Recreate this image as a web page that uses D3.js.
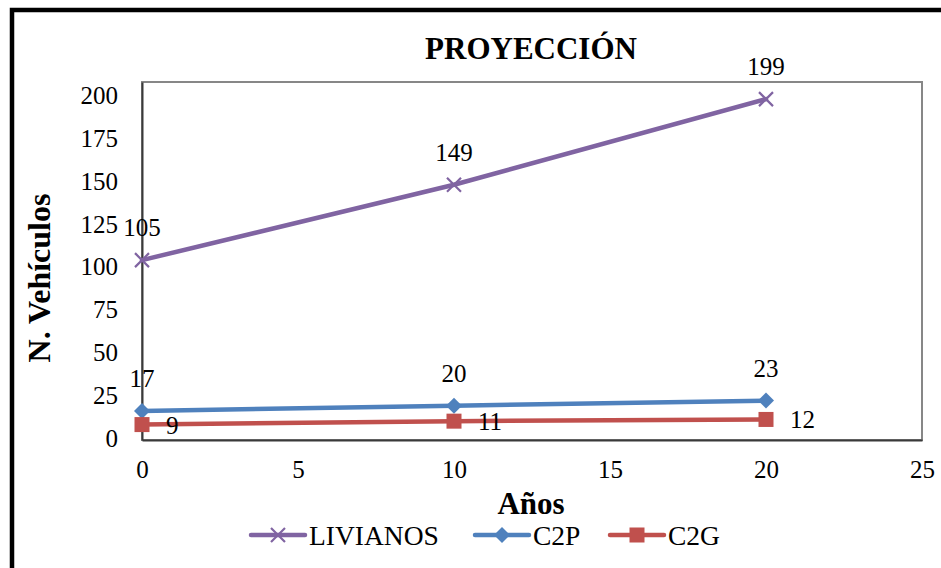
<!DOCTYPE html>
<html>
<head>
<meta charset="utf-8">
<script src="https://cdn.jsdelivr.net/npm/d3@7"></script>
<style>
  html, body { margin: 0; padding: 0; background: #fff; }
  svg { display: block; }
  text { font-family: "Liberation Serif", "Times New Roman", serif; fill: #000; }
</style>
</head>
<body>
<script>
// Projection of vehicle counts by year
const years = [0, 10, 20];
const livianos = [105, 149, 199];
const c2p = [17, 20, 23];
const c2g = [9, 11, 12];
const xTicks = [0, 5, 10, 15, 20, 25];
const yTicks = [0, 25, 50, 75, 100, 125, 150, 175, 200];

const W = 941, H = 568;
const plot = { left: 142, top: 82, right: 922, bottom: 440 };

const svg = d3.select("body").append("svg").attr("width", W).attr("height", H);

// outer chart frame
svg.append("rect")
  .attr("x", 12).attr("y", 10).attr("width", 1000).attr("height", 700)
  .attr("fill", "none").attr("stroke", "#000").attr("stroke-width", 4.5);

const x = d3.scaleLinear().domain([0, 25]).range([plot.left, plot.right]);
const y = d3.scaleLinear().domain([0, 209]).range([plot.bottom, plot.top]);

// plot area border
svg.append("rect")
  .attr("x", plot.left).attr("y", plot.top)
  .attr("width", plot.right - plot.left).attr("height", plot.bottom - plot.top)
  .attr("fill", "none").attr("stroke", "#878787").attr("stroke-width", 2);

// axes
const xAxis = svg.append("g").attr("transform", `translate(0,${plot.bottom})`)
  .call(d3.axisBottom(x).tickValues(xTicks).tickSize(0).tickPadding(20));
const yAxis = svg.append("g").attr("transform", `translate(${plot.left},0)`)
  .call(d3.axisLeft(y).tickValues(yTicks).tickSize(0).tickPadding(24));
[xAxis, yAxis].forEach(g => {
  g.select(".domain").attr("stroke", "#3a3a3a").attr("stroke-width", 2);
  g.selectAll("text").attr("font-family", "Liberation Serif, serif")
    .attr("font-size", 25).attr("fill", "#000");
});
yAxis.selectAll("text").attr("dy", "0.25em");

// titles
svg.append("text").attr("x", 531).attr("y", 59).attr("text-anchor", "middle")
  .attr("font-size", 31).attr("font-weight", "bold").text("PROYECCIÓN");
svg.append("text").attr("x", 531).attr("y", 514).attr("text-anchor", "middle")
  .attr("font-size", 31).attr("font-weight", "bold").text("Años");
svg.append("text")
  .attr("transform", "translate(50,278) rotate(-90)")
  .attr("text-anchor", "middle")
  .attr("font-size", 32).attr("font-weight", "bold").text("N. Vehículos");

const series = [
  { name: "LIVIANOS", values: livianos, color: "#8064A2", marker: "x", labelPos: "above" },
  { name: "C2P", values: c2p, color: "#4F81BD", marker: "diamond", labelPos: "above" },
  { name: "C2G", values: c2g, color: "#C0504D", marker: "square", labelPos: "right" }
];

function drawMarker(g, type, cx, cy, color) {
  if (type === "x") {
    const s = 7;
    g.append("path").attr("d", `M${cx - s},${cy - s}L${cx + s},${cy + s}M${cx - s},${cy + s}L${cx + s},${cy - s}`)
      .attr("stroke", color).attr("stroke-width", 2.2).attr("fill", "none");
  } else if (type === "diamond") {
    const s = 8;
    g.append("path").attr("d", `M${cx},${cy - s}L${cx + s},${cy}L${cx},${cy + s}L${cx - s},${cy}Z`)
      .attr("fill", color);
  } else {
    const s = 7.5;
    g.append("rect").attr("x", cx - s).attr("y", cy - s).attr("width", 2 * s).attr("height", 2 * s)
      .attr("fill", color);
  }
}

const line = d3.line().x(d => x(d[0])).y(d => y(d[1]));

series.forEach(s => {
  const pts = years.map((yr, i) => [yr, s.values[i]]);
  const g = svg.append("g");
  g.append("path").datum(pts).attr("d", line)
    .attr("fill", "none").attr("stroke", s.color).attr("stroke-width", 4.5).attr("stroke-linecap", "round");
  pts.forEach(p => drawMarker(g, s.marker, x(p[0]), y(p[1]), s.color));
  pts.forEach(p => {
    const t = g.append("text").attr("font-size", 25).text(p[1]);
    if (s.labelPos === "above") {
      t.attr("x", x(p[0])).attr("y", y(p[1]) - 24).attr("text-anchor", "middle");
    } else {
      t.attr("x", x(p[0]) + 24).attr("y", y(p[1]) + 9).attr("text-anchor", "start");
    }
  });
});

// legend
const legend = [
  { s: series[0], x0: 251 },
  { s: series[1], x0: 475 },
  { s: series[2], x0: 610 }
];
const ly = 535;
legend.forEach(L => {
  const g = svg.append("g");
  g.append("line").attr("x1", L.x0).attr("x2", L.x0 + 54).attr("y1", ly).attr("y2", ly)
    .attr("stroke", L.s.color).attr("stroke-width", 4.5).attr("stroke-linecap", "round");
  drawMarker(g, L.s.marker, L.x0 + 27, ly, L.s.color);
  g.append("text").attr("x", L.x0 + 58).attr("y", ly + 10).attr("font-size", 27.5).text(L.s.name);
});
</script>
</body>
</html>
